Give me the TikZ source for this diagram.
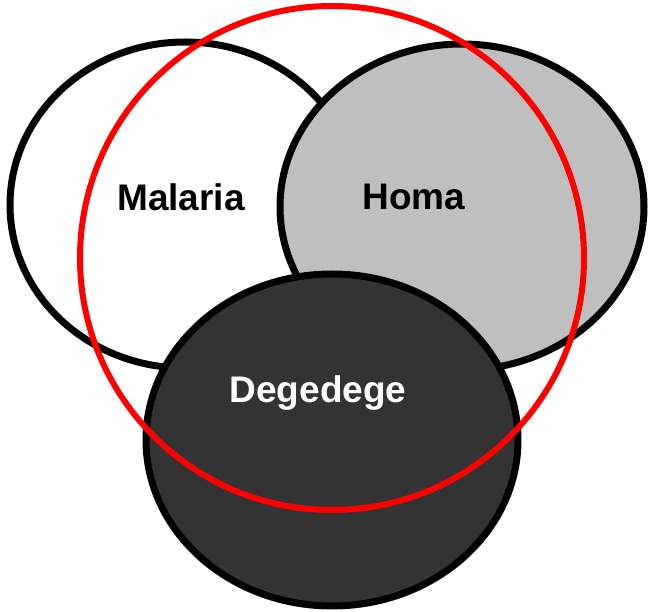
\documentclass[tikz,border=0pt]{standalone}
\usepackage{fontspec}
\setmainfont{Liberation Sans}
\begin{document}
\begin{tikzpicture}[x=1pt,y=-1pt,
  setshape/.style={draw=black,line width=7pt},
  lbl/.style={font=\fontsize{37}{40}\selectfont\bfseries,inner sep=0pt}]
\useasboundingbox (0,0) rectangle (649,612);
\path[setshape,fill=white] (185,205) ellipse [x radius=175,y radius=163];
\path[setshape,fill=black!25] (462,207) ellipse [x radius=182,y radius=163];
\path[setshape,fill=black!80] (332,440) ellipse [x radius=186,y radius=166];
\draw[red,line width=6pt] (332,258) circle [radius=252];
\node[lbl,text=black] (malaria) at (181,197) {Malaria};
\node[lbl,text=black] (homa) at (414,197) {Homa};
\node[lbl,text=white] (degedege) at (318,393) {Degedege};
\end{tikzpicture}
\end{document}
